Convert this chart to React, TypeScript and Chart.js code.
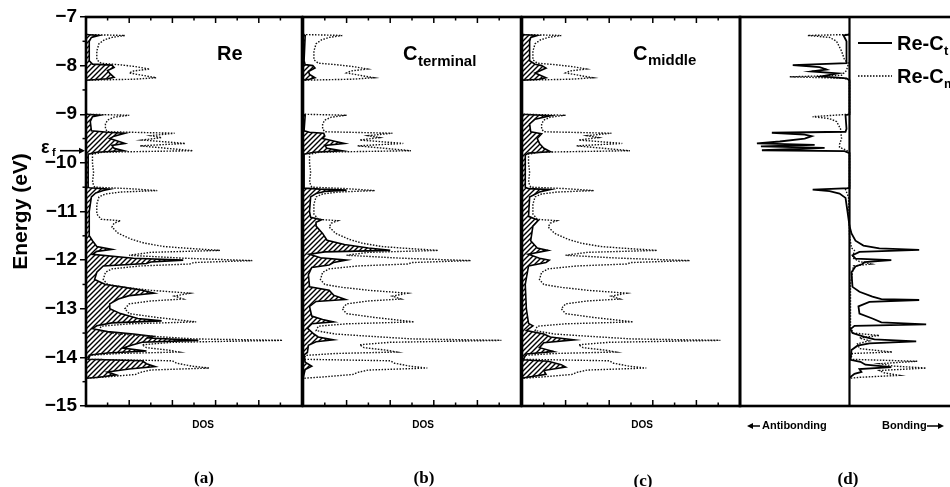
import React, { useEffect, useRef } from "react";
import { Chart, registerables } from "chart.js";

Chart.register(...registerables);

// ---------- data ----------
const ENERGY_MIN = -15;
const ENERGY_MAX = -7;
const FERMI_LEVEL = -9.75;
const DOS_MAX = 10;
const COOP_LIMIT = 11;
const dosTicks = [1, 2, 3, 4, 5, 6, 7, 8, 9];
const energyMinorTicks = [-7.5, -8.5, -9.5, -10.5, -11.5, -12.5, -13.5, -14.5];

// [energy (eV), value]
const totalDos: [number, number][] = [
  [-7.36, 0], [-7.38, 1.8], [-7.42, 1.2], [-7.47, 0.85], [-7.55, 0.6], [-7.7, 0.5], [-7.88, 0.5], [-7.95, 0.7],
  [-7.98, 1.5], [-8.02, 2.3], [-8.07, 2.95], [-8.11, 2.2], [-8.15, 2.0], [-8.19, 2.5], [-8.25, 3.25], [-8.28, 2.2], [-8.3, 0],
  [-9.0, 0], [-9.02, 2.0], [-9.06, 1.3], [-9.12, 1.0], [-9.2, 0.9], [-9.3, 0.9], [-9.36, 1.0], [-9.39, 4.1], [-9.44, 3.0],
  [-9.48, 3.5], [-9.53, 2.6], [-9.6, 4.6], [-9.65, 2.5], [-9.75, 4.95], [-9.78, 0.8], [-9.82, 0.3], [-10.0, 0.3],
  [-10.2, 0.35], [-10.4, 0.3], [-10.5, 0.4], [-10.53, 2.0], [-10.57, 3.3], [-10.6, 1.6], [-10.64, 0.9], [-10.7, 0.6],
  [-10.85, 0.5], [-11.05, 0.5], [-11.16, 0.7], [-11.19, 1.6], [-11.24, 1.3], [-11.32, 1.2], [-11.45, 1.5], [-11.57, 2.1],
  [-11.65, 2.7], [-11.72, 3.6], [-11.76, 4.8], [-11.8, 6.2], [-11.84, 3.0], [-11.9, 2.0], [-11.96, 4.5], [-12.01, 7.7],
  [-12.05, 5.0], [-12.08, 4.8], [-12.12, 2.5], [-12.18, 1.2], [-12.25, 0.9], [-12.4, 0.8], [-12.5, 1.0], [-12.56, 1.8],
  [-12.62, 3.0], [-12.68, 4.8], [-12.74, 4.1], [-12.8, 4.5], [-12.84, 3.0], [-12.9, 2.0], [-13.0, 1.8], [-13.1, 2.0],
  [-13.18, 3.3], [-13.27, 5.1], [-13.31, 2.0], [-13.36, 0.7], [-13.45, 0.6], [-13.52, 1.5], [-13.57, 3.2], [-13.62, 5.0],
  [-13.65, 9.1], [-13.69, 4.0], [-13.74, 2.6], [-13.8, 2.8], [-13.85, 3.8], [-13.89, 4.3], [-13.92, 1.5], [-13.96, 0.1],
  [-14.04, 0.1], [-14.07, 4.0], [-14.12, 4.2], [-14.18, 4.9], [-14.22, 5.7], [-14.26, 3.0], [-14.31, 2.5], [-14.35, 2.3],
  [-14.4, 1.0], [-14.43, 0],
];

const reDos: [number, number][] = [
  [-7.36, 0], [-7.38, 0.6], [-7.42, 0.25], [-7.5, 0.15], [-7.9, 0.15], [-7.97, 0.3], [-7.99, 1.2], [-8.04, 1.3],
  [-8.1, 1.0], [-8.16, 1.1], [-8.24, 1.3], [-8.27, 1.0], [-8.3, 0],
  [-9.0, 0], [-9.02, 0.65], [-9.05, 0.3], [-9.15, 0.2], [-9.34, 0.25], [-9.37, 1.0], [-9.39, 1.8], [-9.45, 1.3],
  [-9.5, 1.1], [-9.57, 1.6], [-9.6, 1.8], [-9.64, 1.2], [-9.7, 1.3], [-9.75, 1.75], [-9.78, 0.5], [-9.82, 0.1], [-10.5, 0.1],
  [-10.51, 0.15], [-10.54, 1.1], [-10.57, 0.8], [-10.62, 0.45], [-10.7, 0.25], [-11.0, 0.15], [-11.5, 0.15], [-11.6, 0.3],
  [-11.72, 0.5], [-11.78, 1.2], [-11.82, 0.5], [-11.88, 0.3], [-11.96, 2.2], [-12.0, 4.5], [-12.04, 3.0], [-12.07, 2.8],
  [-12.12, 0.8], [-12.25, 0.5], [-12.4, 0.4], [-12.5, 0.9], [-12.56, 1.8], [-12.62, 2.6], [-12.68, 3.15], [-12.73, 2.0],
  [-12.8, 1.5], [-12.9, 1.1], [-13.0, 1.1], [-13.1, 1.6], [-13.2, 2.4], [-13.25, 3.5], [-13.29, 1.2], [-13.35, 0.5],
  [-13.41, 0.3], [-13.47, 1.0], [-13.52, 2.2], [-13.57, 3.1], [-13.6, 2.9], [-13.65, 5.2], [-13.69, 2.6], [-13.75, 2.1],
  [-13.81, 1.7], [-13.87, 2.8], [-13.91, 1.0], [-13.95, 0.2], [-14.04, 0.1], [-14.07, 2.6], [-14.13, 2.8], [-14.19, 3.2],
  [-14.24, 2.0], [-14.3, 1.0], [-14.36, 1.4], [-14.41, 0.6], [-14.43, 0],
];

const cTerminalDos: [number, number][] = [
  [-7.36, 0], [-7.38, 0.1], [-7.9, 0.05], [-7.98, 0.1], [-8.0, 0.45], [-8.05, 0.55], [-8.12, 0.25], [-8.18, 0.3],
  [-8.25, 0.55], [-8.28, 0.3], [-8.3, 0],
  [-9.0, 0], [-9.02, 0.1], [-9.34, 0.05], [-9.37, 0.3], [-9.39, 0.95], [-9.45, 1.0], [-9.5, 0.9], [-9.56, 1.5],
  [-9.6, 1.9], [-9.64, 1.0], [-9.7, 1.1], [-9.75, 1.8], [-9.78, 0.5], [-9.82, 0.05], [-10.5, 0.05],
  [-10.52, 0.05], [-10.54, 0.8], [-10.56, 2.0], [-10.59, 1.0], [-10.63, 0.6], [-10.7, 0.35], [-11.0, 0.3], [-11.12, 0.35],
  [-11.17, 0.85], [-11.22, 0.6], [-11.3, 0.6], [-11.45, 0.9], [-11.59, 1.1], [-11.68, 1.9], [-11.75, 3.0], [-11.8, 4.0],
  [-11.83, 1.0], [-11.88, 0.3], [-11.95, 0.8], [-12.0, 2.0], [-12.05, 1.4], [-12.1, 1.2], [-12.15, 0.4], [-12.3, 0.25],
  [-12.55, 0.3], [-12.62, 1.2], [-12.72, 1.4], [-12.81, 1.95], [-12.85, 0.6], [-12.95, 0.3], [-13.15, 0.4], [-13.22, 0.9],
  [-13.27, 1.4], [-13.31, 0.4], [-13.4, 0.2], [-13.52, 0.5], [-13.58, 0.7], [-13.64, 1.4], [-13.68, 0.6], [-13.75, 0.25],
  [-13.9, 0.2], [-13.95, 0.05], [-14.1, 0.1], [-14.18, 0.4], [-14.25, 0.1], [-14.43, 0],
];

const cMiddleDos: [number, number][] = [
  [-7.36, 0], [-7.38, 0.7], [-7.42, 0.4], [-7.5, 0.35], [-7.9, 0.35], [-7.97, 0.6], [-8.0, 0.9], [-8.05, 1.1],
  [-8.15, 0.6], [-8.25, 1.1], [-8.28, 0.8], [-8.3, 0],
  [-9.0, 0], [-9.03, 1.3], [-9.1, 0.6], [-9.2, 0.35], [-9.36, 0.4], [-9.4, 0.9], [-9.5, 0.7], [-9.6, 0.8], [-9.7, 1.0],
  [-9.77, 1.3], [-9.8, 0.3], [-9.84, 0.15], [-10.5, 0.15],
  [-10.53, 0.3], [-10.55, 1.3], [-10.6, 0.8], [-10.7, 0.35], [-11.1, 0.3], [-11.18, 0.75], [-11.3, 0.5], [-11.6, 0.4],
  [-11.75, 0.7], [-11.8, 1.2], [-11.88, 0.3], [-11.96, 0.8], [-12.0, 1.25], [-12.05, 1.1], [-12.12, 0.3], [-12.5, 0.15],
  [-13.0, 0.2], [-13.3, 0.3], [-13.35, 0.5], [-13.45, 0.2], [-13.52, 1.0], [-13.58, 1.3], [-13.64, 2.4], [-13.7, 1.0],
  [-13.8, 0.8], [-13.88, 1.45], [-13.93, 0.2], [-14.05, 0.05], [-14.08, 1.2], [-14.15, 1.8], [-14.2, 2.0], [-14.27, 1.0],
  [-14.35, 1.1], [-14.42, 0.1], [-14.43, 0],
];

const reCtCoop: [number, number][] = [
  [-7.36, 0], [-7.38, -0.6], [-7.5, -0.3], [-7.95, -0.3], [-7.99, -5.7], [-8.03, -3.0], [-8.08, -2.3], [-8.12, -3.8],
  [-8.16, -1.2], [-8.22, -2.8], [-8.26, -0.3], [-8.3, 0],
  [-9.0, 0], [-9.02, -0.4], [-9.3, -0.3], [-9.36, -0.4], [-9.38, -7.8], [-9.42, -4.5], [-9.45, -3.8], [-9.5, -4.5],
  [-9.56, -7.0], [-9.6, -9.3], [-9.63, -3.5], [-9.66, -8.9], [-9.69, -2.5], [-9.74, -8.8], [-9.76, -0.5], [-9.8, 0],
  [-10.52, 0], [-10.55, -3.7], [-10.58, -2.0], [-10.63, -1.0], [-10.72, -0.4], [-11.0, -0.2], [-11.3, 0], [-11.45, 0.2],
  [-11.6, 0.6], [-11.7, 1.4], [-11.76, 3.0], [-11.79, 7.0], [-11.83, 1.0], [-11.9, 0.3], [-11.97, 0.6], [-12.0, 4.2],
  [-12.04, 1.5], [-12.08, 1.3], [-12.13, 0.6], [-12.25, 0.2], [-12.55, 0.3], [-12.65, 1.0], [-12.75, 2.3], [-12.8, 3.2],
  [-12.82, 7.0], [-12.86, 2.0], [-12.95, 0.9], [-13.1, 1.0], [-13.2, 2.3], [-13.28, 3.2], [-13.32, 7.7], [-13.35, 0.5],
  [-13.42, 0.1], [-13.5, 0.3], [-13.58, 1.5], [-13.63, 2.5], [-13.67, 6.7], [-13.71, 2.0], [-13.76, 0.8], [-13.85, 0.2],
  [-14.05, 0.1], [-14.09, 1.1], [-14.15, 1.6], [-14.2, 4.2], [-14.24, 1.0], [-14.3, 1.2], [-14.34, 0.5], [-14.42, 0],
];

const reCmCoop: [number, number][] = [
  [-7.36, 0], [-7.38, -4.2], [-7.42, -2.0], [-7.5, -1.3], [-7.7, -0.8], [-7.88, -0.5], [-7.95, -0.1], [-8.1, -0.3],
  [-8.2, -0.8], [-8.23, -6.0], [-8.26, -0.5], [-8.3, 0],
  [-9.0, 0], [-9.05, -3.7], [-9.09, -2.0], [-9.15, -1.3], [-9.3, -0.9], [-9.5, -0.8], [-9.62, -1.0], [-9.68, -1.0],
  [-9.74, -0.3], [-9.8, 0],
  [-10.5, 0], [-10.55, -0.4], [-10.7, -0.1], [-11.5, 0], [-11.75, 0.2], [-11.8, 0.5], [-11.95, 0.3], [-12.03, 1.0],
  [-12.08, 2.2], [-12.12, 0.4], [-12.5, 0.1], [-13.4, 0.1], [-13.5, 0.4], [-13.55, 3.0], [-13.6, 1.0], [-13.66, 2.0],
  [-13.72, 0.8], [-13.82, 1.0], [-13.89, 4.3], [-13.92, 0.3], [-14.04, 0.1], [-14.08, 6.8], [-14.13, 3.0], [-14.18, 4.5],
  [-14.22, 7.7], [-14.27, 3.0], [-14.32, 3.5], [-14.37, 5.0], [-14.41, 1.0], [-14.43, 0],
];

// ---------- helpers ----------
const SANS = '"Liberation Sans", Arial, sans-serif';
const SERIF = '"Liberation Serif", "Times New Roman", serif';
const H = 487;
const TOP = 17;
const BOTTOM_PAD = H - 406;

const toPoints = (s: [number, number][]) => s.map(([e, v]) => ({ x: v, y: e }));

function makeHatch(): any {
  const c = document.createElement("canvas");
  c.width = 5;
  c.height = 5;
  const g = c.getContext("2d")!;
  g.strokeStyle = "#000";
  g.lineWidth = 1.4;
  g.beginPath();
  g.moveTo(0, 5); g.lineTo(5, 0);
  g.moveTo(-1, 1); g.lineTo(1, -1);
  g.moveTo(4, 6); g.lineTo(6, 4);
  g.stroke();
  return g.createPattern(c, "repeat");
}

function framePlugin(opts: { ticks: boolean; zero: boolean; minorY: boolean }) {
  return {
    id: "frame",
    afterDatasetsDraw(chart: any) {
      const { ctx, chartArea: a } = chart;
      const xs = chart.scales.x;
      ctx.save();
      ctx.strokeStyle = "#000";
      ctx.lineWidth = 1.5;
      if (opts.ticks) {
        for (const v of dosTicks) {
          const x = xs.getPixelForValue(v);
          const len = v % 2 === 0 ? 6 : 3.5;
          ctx.beginPath();
          ctx.moveTo(x, a.bottom); ctx.lineTo(x, a.bottom - len);
          ctx.moveTo(x, a.top); ctx.lineTo(x, a.top + len);
          ctx.stroke();
        }
      }
      if (opts.minorY) {
        const ys = chart.scales.y;
        for (const e of energyMinorTicks) {
          const y = ys.getPixelForValue(e);
          ctx.beginPath();
          ctx.moveTo(a.left - 3.5, y); ctx.lineTo(a.left, y);
          ctx.stroke();
        }
      }
      if (opts.zero) {
        const x0 = xs.getPixelForValue(0);
        ctx.lineWidth = 2.2;
        ctx.beginPath();
        ctx.moveTo(x0, a.top); ctx.lineTo(x0, a.bottom);
        ctx.stroke();
      }
      ctx.lineWidth = 2.6;
      ctx.strokeRect(a.left, a.top, a.right - a.left, a.bottom - a.top);
      ctx.restore();
    },
  };
}

function arrow(ctx: CanvasRenderingContext2D, x1: number, y: number, x2: number) {
  const dir = x2 > x1 ? 1 : -1;
  ctx.beginPath();
  ctx.moveTo(x1, y); ctx.lineTo(x2 - dir * 4, y);
  ctx.stroke();
  ctx.beginPath();
  ctx.moveTo(x2, y); ctx.lineTo(x2 - dir * 6, y - 3); ctx.lineTo(x2 - dir * 6, y + 3);
  ctx.closePath();
  ctx.fill();
}

function baseOptions(xMin: number, xMax: number, padding: any, yScale: any) {
  return {
    animation: false,
    responsive: false,
    maintainAspectRatio: false,
    devicePixelRatio: 1,
    events: [],
    indexAxis: "y",
    layout: { padding },
    plugins: { legend: { display: false }, tooltip: { enabled: false } },
    elements: { point: { radius: 0 }, line: { tension: 0 } },
    scales: {
      x: { type: "linear", min: xMin, max: xMax, display: false },
      y: yScale,
    },
  };
}

const hiddenY = { type: "linear", min: ENERGY_MIN, max: ENERGY_MAX, display: false };

const DOT_DASH = [1.5, 1.5];

function dosDatasets(proj: [number, number][], hatch: any) {
  return [
    {
      data: toPoints(totalDos),
      borderColor: "#111",
      borderWidth: 1.4,
      borderDash: DOT_DASH,
      fill: false,
      order: 1,
      pointRadius: 0,
    },
    {
      data: toPoints(proj),
      borderColor: "#000",
      borderWidth: 1.6,
      backgroundColor: hatch,
      fill: "origin",
      order: 2,
      pointRadius: 0,
    },
  ];
}

type PanelDef = {
  left: number;
  width: number;
  build: (hatch: any) => any;
};

const LEFT_A = 0, LEFT_B = 295, LEFT_C = 514, LEFT_D = 732;

function bottomLabels(ctx: CanvasRenderingContext2D, x: number, label: string, y: number) {
  ctx.textAlign = "center";
  ctx.textBaseline = "alphabetic";
  ctx.font = `bold 10px ${SANS}`;
  ctx.fillText("DOS", x, 428);
  ctx.font = `bold 17px ${SERIF}`;
  ctx.fillText(label, x + 1, y);
}

const panels: PanelDef[] = [
  {
    left: LEFT_A,
    width: 312,
    build: (hatch) => ({
      type: "line",
      data: { datasets: dosDatasets(reDos, hatch) },
      options: baseOptions(0, DOS_MAX, { left: 9, right: 10, top: TOP, bottom: BOTTOM_PAD }, {
        type: "linear",
        min: ENERGY_MIN,
        max: ENERGY_MAX,
        position: "left",
        afterFit: (scale: any) => { scale.width = 77; },
        ticks: {
          stepSize: 1,
          color: "#000",
          padding: 3,
          font: { family: SANS, weight: "bold", size: 19 },
          callback: (v: number) => (v < 0 ? "\u2212" + Math.abs(v) : String(v)),
        },
        grid: { drawOnChartArea: false, drawTicks: true, tickLength: 6, color: "#000", lineWidth: 1.5 },
        border: { display: false },
        title: {
          display: true,
          text: "Energy (eV)",
          color: "#000",
          padding: 0,
          font: { family: SANS, weight: "bold", size: 21 },
        },
      }),
      plugins: [
        framePlugin({ ticks: true, zero: false, minorY: true }),
        {
          id: "textA",
          afterDraw(chart: any) {
            const ctx = chart.ctx;
            const L = LEFT_A;
            ctx.save();
            ctx.fillStyle = "#000";
            ctx.strokeStyle = "#000";
            ctx.font = `bold 20px ${SANS}`;
            ctx.textAlign = "left";
            ctx.textBaseline = "alphabetic";
            ctx.fillText("Re", 217 - L, 60);
            // Fermi level marker
            const yf = chart.scales.y.getPixelForValue(FERMI_LEVEL);
            ctx.font = `bold 18px ${SANS}`;
            ctx.fillText("\u03b5", 41 - L, yf + 2);
            ctx.font = `bold 11px ${SANS}`;
            ctx.fillText("f", 52 - L, yf + 5);
            ctx.lineWidth = 1.6;
            arrow(ctx, 60 - L, yf, chart.chartArea.left - 1);
            bottomLabels(ctx, 203 - L, "(a)", 483);
            ctx.restore();
          },
        },
      ],
    }),
  },
  {
    left: LEFT_B,
    width: 235,
    build: (hatch) => ({
      type: "line",
      data: { datasets: dosDatasets(cTerminalDos, hatch) },
      options: baseOptions(0, DOS_MAX, { left: 8, right: 9, top: TOP, bottom: BOTTOM_PAD }, hiddenY),
      plugins: [
        framePlugin({ ticks: true, zero: false, minorY: false }),
        {
          id: "textB",
          afterDraw(chart: any) {
            const ctx = chart.ctx;
            const L = LEFT_B;
            ctx.save();
            ctx.fillStyle = "#000";
            ctx.textBaseline = "alphabetic";
            ctx.font = `bold 20px ${SANS}`;
            ctx.fillText("C", 403 - L, 60);
            ctx.font = `bold 15px ${SANS}`;
            ctx.fillText("terminal", 418 - L, 66);
            bottomLabels(ctx, 423 - L, "(b)", 483);
            ctx.restore();
          },
        },
      ],
    }),
  },
  {
    left: LEFT_C,
    width: 235,
    build: (hatch) => ({
      type: "line",
      data: { datasets: dosDatasets(cMiddleDos, hatch) },
      options: baseOptions(0, DOS_MAX, { left: 8, right: 9, top: TOP, bottom: BOTTOM_PAD }, hiddenY),
      plugins: [
        framePlugin({ ticks: true, zero: false, minorY: false }),
        {
          id: "textC",
          afterDraw(chart: any) {
            const ctx = chart.ctx;
            const L = LEFT_C;
            ctx.save();
            ctx.fillStyle = "#000";
            ctx.textBaseline = "alphabetic";
            ctx.font = `bold 20px ${SANS}`;
            ctx.fillText("C", 633 - L, 60);
            ctx.font = `bold 15px ${SANS}`;
            ctx.fillText("middle", 648 - L, 65);
            bottomLabels(ctx, 642 - L, "(c)", 486);
            ctx.restore();
          },
        },
      ],
    }),
  },
  {
    left: LEFT_D,
    width: 236,
    build: () => ({
      type: "line",
      data: {
        datasets: [
          {
            label: "Re-Ct",
            data: toPoints(reCtCoop),
            borderColor: "#000",
            borderWidth: 1.8,
            fill: false,
            order: 1,
            pointRadius: 0,
          },
          {
            label: "Re-Cm",
            data: toPoints(reCmCoop),
            borderColor: "#111",
            borderWidth: 1.4,
            borderDash: DOT_DASH,
            fill: false,
            order: 2,
            pointRadius: 0,
          },
        ],
      },
      options: baseOptions(-COOP_LIMIT, COOP_LIMIT, { left: 8, right: 9, top: TOP, bottom: BOTTOM_PAD }, hiddenY),
      plugins: [
        framePlugin({ ticks: false, zero: true, minorY: false }),
        {
          id: "textD",
          afterDraw(chart: any) {
            const ctx = chart.ctx;
            const L = LEFT_D;
            ctx.save();
            ctx.fillStyle = "#000";
            ctx.strokeStyle = "#000";
            // legend
            ctx.lineWidth = 1.8;
            ctx.beginPath();
            ctx.moveTo(858 - L, 43); ctx.lineTo(892 - L, 43);
            ctx.stroke();
            ctx.lineWidth = 1.4;
            ctx.setLineDash(DOT_DASH);
            ctx.beginPath();
            ctx.moveTo(858 - L, 76); ctx.lineTo(892 - L, 76);
            ctx.stroke();
            ctx.setLineDash([]);
            ctx.textBaseline = "alphabetic";
            ctx.font = `bold 20px ${SANS}`;
            ctx.fillText("Re-C", 897 - L, 50);
            ctx.fillText("Re-C", 897 - L, 83);
            ctx.font = `bold 13px ${SANS}`;
            ctx.fillText("t", 944 - L, 55);
            ctx.fillText("m", 944 - L, 88);
            // bottom labels
            ctx.font = `bold 11px ${SANS}`;
            ctx.textAlign = "left";
            ctx.textBaseline = "middle";
            ctx.fillText("Antibonding", 762 - L, 426);
            ctx.fillText("Bonding", 882 - L, 426);
            ctx.lineWidth = 1.5;
            arrow(ctx, 760 - L, 426, 747 - L);
            arrow(ctx, 927 - L, 426, 944 - L);
            ctx.textAlign = "center";
            ctx.textBaseline = "alphabetic";
            ctx.font = `bold 17px ${SERIF}`;
            ctx.fillText("(d)", 848 - L, 484);
            ctx.restore();
          },
        },
      ],
    }),
  },
];

export default function App() {
  const refs = [useRef<HTMLCanvasElement>(null), useRef<HTMLCanvasElement>(null), useRef<HTMLCanvasElement>(null), useRef<HTMLCanvasElement>(null)];

  useEffect(() => {
    const hatch = makeHatch();
    const charts: Chart[] = [];
    panels.forEach((p, i) => {
      const c = refs[i].current;
      if (!c) return;
      charts.push(new Chart(c, p.build(hatch) as any));
    });
    return () => charts.forEach((ch) => ch.destroy());
  }, []);

  return (
    <div style={{ position: "absolute", left: 0, top: 0, width: 950, height: H, overflow: "hidden", background: "#fff" }}>
      {panels.map((p, i) => (
        <canvas
          key={i}
          ref={refs[i]}
          width={p.width}
          height={H}
          style={{ position: "absolute", left: p.left, top: 0, width: p.width, height: H }}
        />
      ))}
    </div>
  );
}
